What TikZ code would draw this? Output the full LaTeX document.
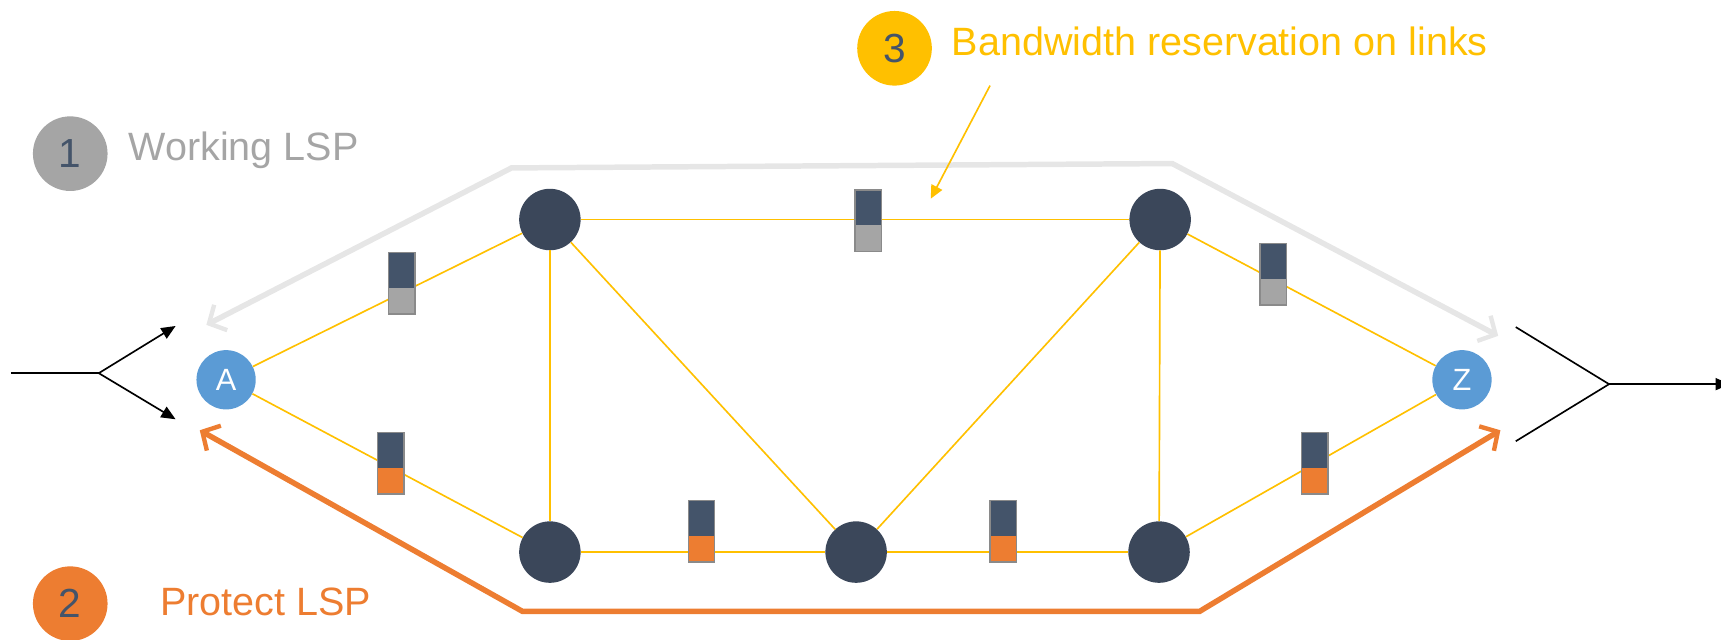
\documentclass[tikz,border=0pt]{standalone}
\usepackage{fontspec}
\setmainfont{Liberation Sans}
\usetikzlibrary{arrows.meta}

\definecolor{lspgray}{HTML}{A5A5A5}
\definecolor{pathgray}{HTML}{E6E6E6}
\definecolor{lsporange}{HTML}{ED7D31}
\definecolor{bwyellow}{HTML}{FFC000}
\definecolor{slate}{HTML}{44546A}
\definecolor{router}{HTML}{3B475A}
\definecolor{edgeblue}{HTML}{5B9BD5}
\definecolor{barframe}{HTML}{8A8A8A}

\tikzset{
  core/.style={circle, fill=router, minimum size=56pt, inner sep=0pt},
  edge/.style={circle, fill=edgeblue, minimum size=54pt, inner sep=0pt,
    text=white, font=\fontsize{28}{28}\selectfont},
  badge/.style={circle, minimum size=68pt, inner sep=0pt, text=slate,
    font=\fontsize{37}{37}\selectfont},
  caption/.style={anchor=west, inner sep=0pt, font=\fontsize{36}{40}\selectfont},
  link/.style={draw=bwyellow, line width=1.5pt},
  lsp/.style={line width=5pt, line join=miter,
    {Straight Barb[length=12pt,width=26pt,line width=4pt]}-{Straight Barb[length=12pt,width=26pt,line width=4pt]}},
  feed/.style={draw=black, line width=1.5pt},
  pics/bwbar/.style={code={
    \fill[slate] (-12,-28) rectangle (12,4);
    \fill[#1] (-12,4) rectangle (12,28);
    \draw[barframe, line width=1.2pt] (-12,-28) rectangle (12,28);
  }}
}

\begin{document}
\begin{tikzpicture}[x=1pt, y=-1pt]
\useasboundingbox (0,0) rectangle (1568,583);

% legend badges and captions
\node[badge, fill=lspgray] (b1) at (64,140) {1};
\node[caption, text=lspgray] (t1) at (117,137) {Working LSP};
\node[badge, fill=lsporange] (b2) at (64,550) {2};
\node[caption, text=lsporange] (t2) at (146,548) {Protect LSP};
\node[badge, fill=bwyellow] (b3) at (815,44) {3};
\node[caption, text=bwyellow] (t3) at (867,38) {Bandwidth reservation on links};

% routers
\node[edge] (A) at (206,346) {A};
\node[edge] (Z) at (1332,346) {Z};
\node[core] (n1) at (501,200) {};
\node[core] (n2) at (1057,200) {};
\node[core] (n3) at (501,503) {};
\node[core] (n4) at (780,503) {};
\node[core] (n5) at (1056,503) {};

% links
\draw[link] (A) -- (n1);
\draw[link] (A) -- (n3);
\draw[link] (n1) -- (n2);
\draw[link] (n1) -- (n3);
\draw[link] (n1) -- (n4);
\draw[link] (n2) -- (n4);
\draw[link] (n2) -- (n5);
\draw[link] (n3) -- (n4);
\draw[link] (n4) -- (n5);
\draw[link] (n2) -- (Z);
\draw[link] (n5) -- (Z);

% bandwidth bars on the links
\pic at (366,258) {bwbar=lspgray};
\pic at (791,201) {bwbar=lspgray};
\pic at (1160,250) {bwbar=lspgray};
\pic at (356,422) {bwbar=lsporange};
\pic at (639,484) {bwbar=lsporange};
\pic at (914,484) {bwbar=lsporange};
\pic at (1198,422) {bwbar=lsporange};

% working and protect paths
\coordinate (wa) at (188,296);
\coordinate (wz) at (1365,306);
\coordinate (pa) at (182,392);
\coordinate (pz) at (1367,392);
\draw[lsp, draw=pathgray, color=pathgray] (wa) -- (466,153) -- (1068,149) -- (wz);
\draw[lsp, draw=lsporange, color=lsporange] (pa) -- (476,557) -- (1093,557) -- (pz);

% pointer to the reserved link
\coordinate (p3s) at (902,78);
\coordinate (p3e) at (848,181);
\draw[draw=bwyellow, line width=1.5pt, -{Triangle[length=12pt,width=11pt]}, color=bwyellow] (p3s) -- (p3e);

% traffic in and out
\coordinate (inL) at (10,340);
\coordinate (splitL) at (90,340);
\coordinate (inU) at (160,297);
\coordinate (inD) at (160,382);
\draw[feed] (inL) -- (splitL);
\draw[feed, -{Triangle[length=13pt,width=11pt]}] (splitL) -- (inU);
\draw[feed, -{Triangle[length=13pt,width=11pt]}] (splitL) -- (inD);

\coordinate (outU) at (1381,298);
\coordinate (outD) at (1381,402);
\coordinate (joinR) at (1466,350);
\coordinate (outR) at (1576,350);
\draw[feed] (outU) -- (joinR);
\draw[feed] (outD) -- (joinR);
\draw[feed, -{Triangle[length=13pt,width=11pt]}] (joinR) -- (outR);
\end{tikzpicture}
\end{document}
